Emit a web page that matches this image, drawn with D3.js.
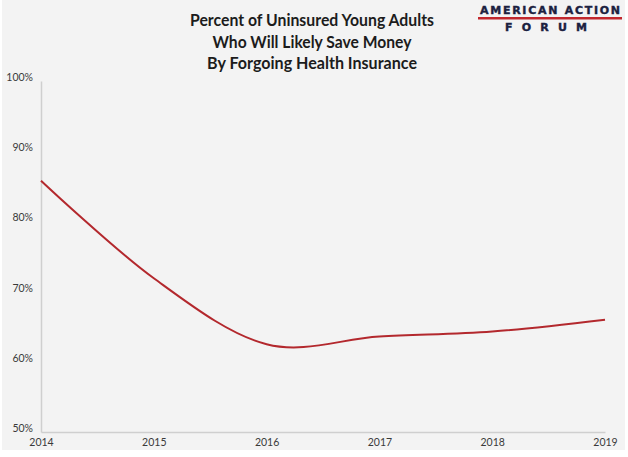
<!DOCTYPE html>
<html>
<head>
<meta charset="utf-8">
<script src="https://d3js.org/d3.v7.min.js"></script>
<style>
body{margin:0;background:#fff}
svg{display:block}
</style>
</head>
<body>
<div id="chart"></div>
<script>
// data
const years = [2014, 2015, 2016, 2017, 2018, 2019];
const share = [85.8, 71.9, 62.5, 63.6, 64.3, 66.0];
const yTicks = [50, 60, 70, 80, 90, 100];
const titleLines = ["Percent of Uninsured Young Adults", "Who Will Likely Save Money", "By Forgoing Health Insurance"];

const W = 628, H = 457;
const svg = d3.select("#chart").append("svg").attr("width", W).attr("height", H);

svg.append("rect").attr("x", 2).attr("y", 0).attr("width", 623).attr("height", 450).attr("fill", "#f3f3f3");

const x = d3.scaleLinear().domain([2014, 2019]).range([41, 605]);
const y = d3.scaleLinear().domain([50, 100]).range([432, 81]);

// title
svg.append("g").selectAll("text")
  .data(titleLines)
  .enter()
  .append("text")
    .attr("x", 312)
    .attr("y", (d, i) => 26 + i * 21.5)
    .attr("text-anchor", "middle")
    .attr("font-family", "Lato, sans-serif")
    .attr("font-weight", 700)
    .attr("font-size", 17.5)
    .attr("fill", "#1c1c1c")
    .attr("textLength", (d, i) => [244, 199, 210][i])
    .attr("lengthAdjust", "spacingAndGlyphs")
    .text(d => d);

// logo
const logo = svg.append("g").attr("font-family", "'DejaVu Sans', sans-serif").attr("font-weight", 700).attr("fill", "#1b2140");
logo.append("text").attr("x", 550).attr("y", 14).attr("text-anchor", "middle").attr("font-size", 11)
  .attr("stroke", "#1b2140").attr("stroke-width", 0.4)
  .attr("textLength", 140).attr("lengthAdjust", "spacing").text("AMERICAN ACTION");
logo.append("rect").attr("x", 478).attr("y", 17).attr("width", 144).attr("height", 2.5).attr("fill", "#c1272d");
logo.append("text").attr("x", 546).attr("y", 31).attr("text-anchor", "middle").attr("font-size", 11)
  .attr("stroke", "#1b2140").attr("stroke-width", 0.4)
  .attr("textLength", 82).attr("lengthAdjust", "spacing").text("FORUM");

// axes
const yAxis = svg.append("g").attr("transform", "translate(41,0)")
  .call(d3.axisLeft(y).tickValues(yTicks).tickSize(0).tickPadding(8).tickFormat(d => d + "%"));
const xAxis = svg.append("g").attr("transform", "translate(0,432)")
  .call(d3.axisBottom(x).tickValues(years).tickSize(0).tickPadding(7).tickFormat(d3.format("d")));

[yAxis, xAxis].forEach(g => {
  g.select(".domain").attr("stroke", "#cfcfcf").attr("stroke-width", 1.5);
  g.selectAll("text").attr("font-family", "Lato, sans-serif").attr("font-size", 10.5).attr("fill", "#3a3a3a");
});
yAxis.selectAll("text").attr("dy", "-0.05em");

// line
const line = d3.line()
  .x((d, i) => x(years[i]))
  .y(d => y(d))
  .curve(d3.curveCardinal.tension(0));

svg.append("path")
  .datum(share)
  .attr("d", line)
  .attr("fill", "none")
  .attr("stroke", "#b3282d")
  .attr("stroke-width", 2);
</script>
</body>
</html>
